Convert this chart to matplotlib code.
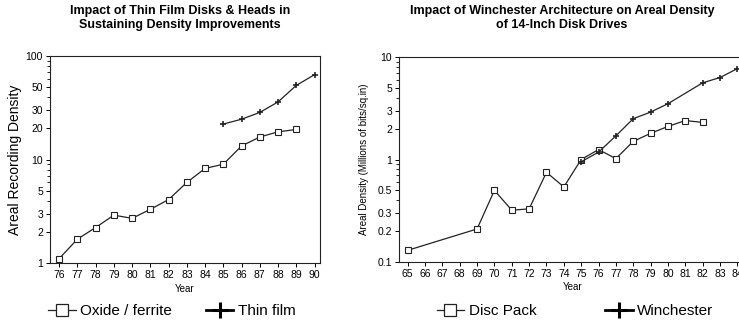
import matplotlib.pyplot as plt
from matplotlib.lines import Line2D
from matplotlib.ticker import FixedLocator, NullFormatter, LogLocator

plt.rcParams['font.family'] = ['Liberation Sans', 'DejaVu Sans']

# left panel: thin film vs oxide/ferrite
oxide_years = [76, 77, 78, 79, 80, 81, 82, 83, 84, 85, 86, 87, 88, 89]
oxide_vals = [1.1, 1.7, 2.2, 2.9, 2.7, 3.3, 4.1, 6.0, 8.2, 9.0, 13.5, 16.5, 18.5, 19.5]
thin_years = [85, 86, 87, 88, 89, 90]
thin_vals = [22, 24.5, 28.5, 36, 52, 66]
left_yticks = [1, 2, 3, 5, 10, 20, 30, 50, 100]

# right panel: winchester vs disc pack
pack_years = [65, 69, 70, 71, 72, 73, 74, 75, 76, 77, 78, 79, 80, 81, 82]
pack_vals = [0.13, 0.21, 0.5, 0.32, 0.33, 0.75, 0.54, 1.0, 1.25, 1.02, 1.5, 1.8, 2.1, 2.4, 2.3]
win_years = [75, 76, 77, 78, 79, 80, 82, 83, 84]
win_vals = [0.95, 1.18, 1.7, 2.5, 2.9, 3.5, 5.6, 6.3, 7.7]
right_yticks = [0.1, 0.2, 0.3, 0.5, 1, 2, 3, 5, 10]

W, H = 739, 326
fig = plt.figure(figsize=(W / 100, H / 100), dpi=100)
ax1 = fig.add_axes([50 / W, 1 - 263 / H, 270 / W, 207 / H])
ax2 = fig.add_axes([399 / W, 1 - 262 / H, 347 / W, 205 / H])

ink = '#222222'
sq = dict(marker='s', markersize=4.5, markerfacecolor='white', markeredgecolor=ink,
          markeredgewidth=0.8, color=ink, linewidth=0.9)
pl = dict(marker='+', markersize=5, markeredgewidth=1.2, color=ink, linewidth=0.9)

ax1.plot(oxide_years, oxide_vals, **sq)
ax1.plot(thin_years, thin_vals, **pl)
ax2.plot(pack_years, pack_vals, **sq)
ax2.plot(win_years, win_vals, **pl)

for ax, yt in ((ax1, left_yticks), (ax2, right_yticks)):
    ax.set_yscale('log')
    ax.set_ylim(yt[0], yt[-1])
    ax.yaxis.set_major_locator(FixedLocator(yt))
    ax.set_yticklabels([('%g' % v) for v in yt])
    ax.yaxis.set_minor_locator(LogLocator(base=10, subs=range(2, 10)))
    ax.yaxis.set_minor_formatter(NullFormatter())
    ax.tick_params(axis='both', which='major', labelsize=7.5, length=3, width=0.7, pad=2)
    ax.tick_params(axis='y', which='minor', length=2, width=0.6)
    for s in ax.spines.values():
        s.set_linewidth(0.8)
        s.set_color(ink)

ax1.set_xlim(75.5, 90.3)
ax1.set_xticks(range(76, 91))
ax2.set_xlim(64.5, 84.5)
ax2.set_xticks(range(65, 85))

ax1.set_xlabel('Year', fontsize=7, labelpad=3)
ax2.set_xlabel('Year', fontsize=7, labelpad=2)
ax1.set_ylabel('Areal Recording Density', fontsize=10)
ax1.yaxis.set_label_coords(-0.105, 0.5)
ax2.set_ylabel('Areal Density (Millions of bits/sq.in)', fontsize=7, labelpad=6)

fig.text(180 / W, 1 - 18 / H, 'Impact of Thin Film Disks & Heads in\nSustaining Density Improvements',
         ha='center', va='center', fontsize=9, fontweight='bold', linespacing=1.25)
fig.text(562 / W, 1 - 18 / H, 'Impact of Winchester Architecture on Areal Density\nof 14-Inch Disk Drives',
         ha='center', va='center', fontsize=9, fontweight='bold', linespacing=1.25)

h_sq = Line2D([], [], marker='s', markersize=9, markerfacecolor='white', markeredgecolor=ink,
              markeredgewidth=0.9, color=ink, linewidth=0.9)
h_pl = Line2D([], [], marker='+', markersize=11, markeredgewidth=2.2, color='black', linewidth=2.0)

fig.legend([h_sq, h_pl], ['Oxide / ferrite', 'Thin film'], loc='center', ncol=2,
           bbox_to_anchor=(172 / W, 1 - 311 / H), frameon=False, fontsize=11,
           handlelength=1.8, handletextpad=0.3, columnspacing=2.2)
fig.legend([h_sq, h_pl], ['Disc Pack', 'Winchester'], loc='center', ncol=2,
           bbox_to_anchor=(575 / W, 1 - 311 / H), frameon=False, fontsize=11,
           handlelength=1.8, handletextpad=0.3, columnspacing=4.5)

fig.savefig('out.png', dpi=100)
